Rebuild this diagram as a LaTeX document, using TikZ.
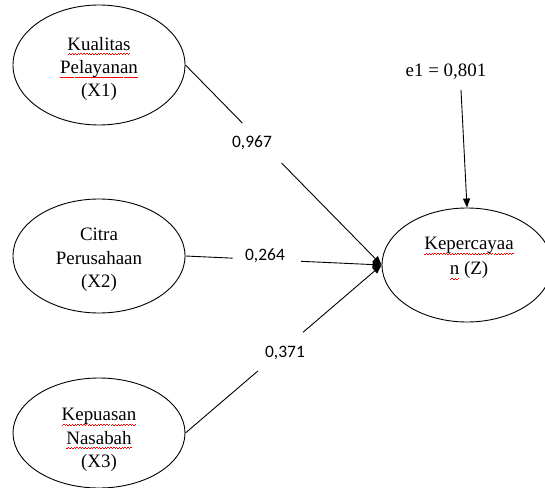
\documentclass[tikz,border=0pt]{standalone}
\usepackage{fontspec}
\setmainfont{Liberation Serif}
\newfontfamily\labfont{Carlito}
\usetikzlibrary{arrows.meta,calc,shapes.geometric}
\newsavebox\wordbox
\newcommand\redwave[1]{\sbox\wordbox{#1}\leavevmode\rlap{\raisebox{-4.5bp}[0pt][0pt]{\hbox to \wd\wordbox{\color{red}\xleaders\hbox{\rule[0pt]{1.4bp}{0.6bp}\rule[0.9bp]{1.4bp}{0.6bp}}\hfil}}}\usebox\wordbox}
\begin{document}
\begin{tikzpicture}[x=1bp,y=-1bp,
  latent/.style={ellipse, draw, line width=0.9bp, inner sep=0pt},
  vtext/.style={align=center, font=\fontsize{19}{23.5}\selectfont, inner sep=0pt},
  coef/.style={font=\labfont\fontsize{17.5}{20}\selectfont, inner sep=1pt},
  pathline/.style={line width=0.9bp},
  tip/.style={-{Triangle[length=9bp,width=7bp]}}
]
\useasboundingbox (0,0) rectangle (545,488);
% latent variables
\node[latent, minimum width=172bp, minimum height=120bp] (x1) at (99,65) {};
\node[latent, minimum width=172bp, minimum height=114bp] (x2) at (99,256) {};
\node[latent, minimum width=172bp, minimum height=110bp] (x3) at (99,433) {};
\node[latent, minimum width=170bp, minimum height=114bp] (z) at (467,265) {};
% texts
\node[vtext] (x1t) at (99,69) {\redwave{Kualitas}\\\redwave{Pelayanan}\\(X1)};
\node[vtext] (x2t) at (99,260) {Citra\\Perusahaan\\(X2)};
\node[vtext] (x3t) at (99,440) {\redwave{Kepuasan}\\\redwave{Nasabah}\\(X3)};
\node[vtext, font=\fontsize{19}{25}\selectfont] (zt) at (469,258) {\redwave{Kepercayaa}\\\redwave{n} (Z)};
\node[vtext] (e1) at (446,72) {e1 = 0,801};
% coefficients
\node[coef] (c1) at (252,143) {0,967};
\node[coef] (c2) at (265,256) {0,264};
\node[coef] (c3) at (285,353) {0,371};
% gap coordinates
\coordinate (g1a) at ($(x1.east)!0.29!(z.west)$);
\coordinate (g1b) at ($(x1.east)!0.49!(z.west)$);
\coordinate (g2a) at ($(x2.east)!0.24!(z.west)$);
\coordinate (g2b) at ($(x2.east)!0.59!(z.west)$);
\coordinate (g3a) at ($(x3.east)!0.37!(z.west)$);
\coordinate (g3b) at ($(x3.east)!0.60!(z.west)$);
\coordinate (e1s) at (461,90);
% paths
\draw[pathline] (x1.east) -- (g1a);
\draw[pathline,tip] (g1b) -- (z.west);
\draw[pathline] (x2.east) -- (g2a);
\draw[pathline,tip] (g2b) -- (z.west);
\draw[pathline] (x3.east) -- (g3a);
\draw[pathline,tip] (g3b) -- (z.west);
\draw[pathline,tip] (e1s) -- (z.north);
\end{tikzpicture}
\end{document}
